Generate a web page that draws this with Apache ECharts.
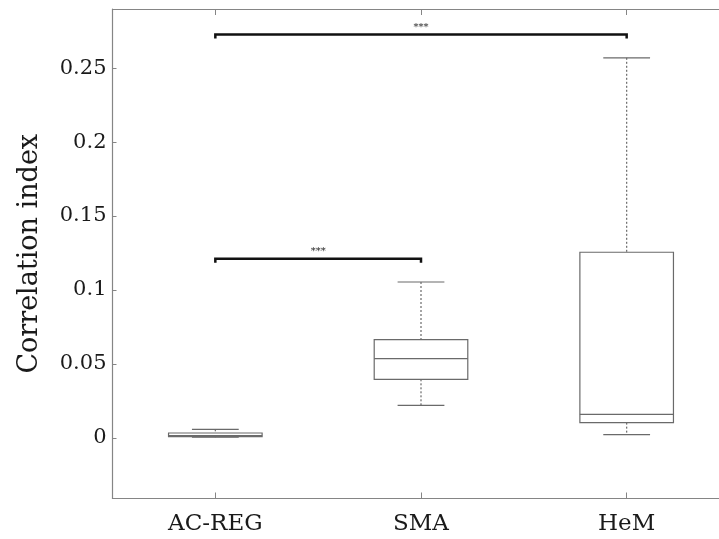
<!DOCTYPE html>
<html>
<head>
<meta charset="utf-8">
<script src="https://cdn.jsdelivr.net/npm/echarts@6/dist/echarts.min.js"></script>
<style>
  html, body { margin: 0; padding: 0; background: #fff; }
  #chart { width: 719px; height: 539px; }
</style>
</head>
<body>
<div id="chart"></div>
<script>
// groups and box statistics
var categories = ['AC-REG', 'SMA', 'HeM'];
var lowers  = [0.0005, 0.0220, 0.0022];
var q1s     = [0.0008, 0.0396, 0.0103];
var medians = [0.0016, 0.0536, 0.0159];
var q3s     = [0.0033, 0.0664, 0.1255];
var uppers  = [0.0058, 0.1054, 0.2570];

// y tick labels
var yTicks = [0, 0.05, 0.1, 0.15, 0.2, 0.25];

// significance brackets (category index from / to, height, text)
var bracketFrom  = [0, 0];
var bracketTo    = [2, 1];
var bracketLevel = [0.2727, 0.1212];
var bracketText  = ['***', '***'];

var boxData = categories.map(function (c, i) {
  return [i, lowers[i], q1s[i], medians[i], q3s[i], uppers[i]];
});
var bracketData = bracketFrom.map(function (f, i) {
  return [f, bracketTo[i], bracketLevel[i], bracketText[i]];
});

var lineColor = '#6a6a6a';
var axisColor = '#858585';
var font = 'DejaVu Serif';

function renderBox(params, api) {
  var x = api.value(0);
  var band = api.size([1, 0])[0];
  var boxW = band * 0.455;
  var capW = boxW / 2;
  var pLow = api.coord([x, api.value(1)]);
  var pQ1 = api.coord([x, api.value(2)]);
  var pMed = api.coord([x, api.value(3)]);
  var pQ3 = api.coord([x, api.value(4)]);
  var pUp = api.coord([x, api.value(5)]);
  var cx = pMed[0];
  var solid = { stroke: lineColor, lineWidth: 1.2, fill: null };
  var dotted = { stroke: lineColor, lineWidth: 1.2, lineDash: [2, 2] };
  return {
    type: 'group',
    children: [
      { type: 'line', shape: { x1: cx, y1: pUp[1], x2: cx, y2: pQ3[1] }, style: dotted },
      { type: 'line', shape: { x1: cx, y1: pQ1[1], x2: cx, y2: pLow[1] }, style: dotted },
      { type: 'line', shape: { x1: cx - capW / 2, y1: pUp[1], x2: cx + capW / 2, y2: pUp[1] }, style: solid },
      { type: 'line', shape: { x1: cx - capW / 2, y1: pLow[1], x2: cx + capW / 2, y2: pLow[1] }, style: solid },
      { type: 'rect', shape: { x: cx - boxW / 2, y: pQ3[1], width: boxW, height: pQ1[1] - pQ3[1] }, style: solid },
      { type: 'line', shape: { x1: cx - boxW / 2, y1: pMed[1], x2: cx + boxW / 2, y2: pMed[1] }, style: solid }
    ]
  };
}

function renderBracket(params, api) {
  var p1 = api.coord([api.value(0), api.value(2)]);
  var p2 = api.coord([api.value(1), api.value(2)]);
  var txt = bracketText[params.dataIndex];
  return {
    type: 'group',
    children: [
      {
        type: 'polyline',
        shape: { points: [[p1[0], p1[1] + 4], [p1[0], p1[1]], [p2[0], p2[1]], [p2[0], p2[1] + 4]] },
        style: { stroke: '#111', lineWidth: 2.5, fill: null }
      },
      {
        type: 'text',
        x: (p1[0] + p2[0]) / 2, y: p1[1] - 2,
        style: { text: txt, fill: '#222', font: '10px ' + font, textAlign: 'center', textVerticalAlign: 'bottom' }
      }
    ]
  };
}

var chart = echarts.init(document.getElementById('chart'));
chart.setOption({
  animation: false,
  backgroundColor: '#fff',
  grid: { left: 112.5, top: 9, width: 617, height: 489.5, outerBoundsMode: 'none' },
  xAxis: [{
    type: 'category',
    data: categories,
    boundaryGap: true,
    axisLine: { show: true, onZero: false, lineStyle: { color: axisColor, width: 1.2 } },
    axisTick: { show: true, inside: true, alignWithLabel: true, length: 6, lineStyle: { color: axisColor } },
    axisLabel: { margin: 14, fontFamily: font, fontSize: 23, color: '#1a1a1a' },
    splitLine: { show: false }
  }, {
    type: 'category',
    position: 'top',
    data: categories,
    boundaryGap: true,
    axisLine: { show: true, onZero: false, lineStyle: { color: axisColor, width: 1.2 } },
    axisTick: { show: true, inside: true, alignWithLabel: true, length: 6, lineStyle: { color: axisColor } },
    axisLabel: { show: false },
    splitLine: { show: false }
  }],
  yAxis: {
    type: 'value',
    min: -0.041,
    max: 0.29,
    name: 'Correlation index',
    nameLocation: 'middle',
    nameGap: 69,
    nameTextStyle: { fontFamily: font, fontSize: 27, color: '#1a1a1a' },
    axisLine: { show: true, lineStyle: { color: axisColor, width: 1.2 } },
    axisTick: { show: true, inside: true, length: 4, customValues: yTicks, lineStyle: { color: axisColor } },
    axisLabel: {
      margin: 6, fontFamily: font, fontSize: 21, color: '#1a1a1a', customValues: yTicks,
      formatter: function (v) { return String(v); }
    },
    splitLine: { show: false }
  },
  series: [{
    type: 'custom',
    renderItem: renderBox,
    encode: { x: 0, y: [1, 2, 3, 4, 5] },
    data: boxData,
    clip: false
  }, {
    type: 'custom',
    renderItem: renderBracket,
    encode: { x: [0, 1], y: 2 },
    data: bracketData,
    clip: false
  }]
});
</script>
</body>
</html>
